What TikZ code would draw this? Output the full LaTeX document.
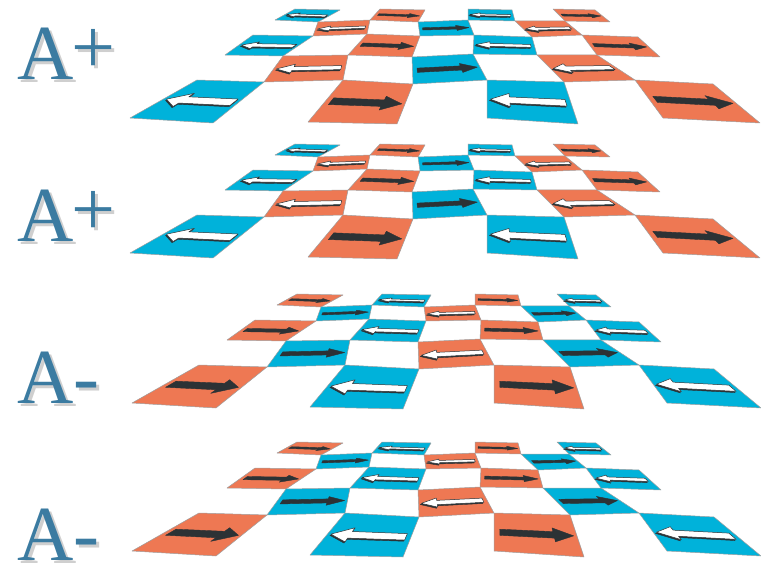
\documentclass[tikz,border=0pt]{standalone}
\usepackage{fontspec}
\setmainfont{Liberation Serif}
\usetikzlibrary{calc}
\definecolor{tileblue}{HTML}{00B2DA}
\definecolor{tileorange}{HTML}{EE7853}
\definecolor{arrowdark}{HTML}{2C3235}
\definecolor{labelblue}{HTML}{3B7BA1}
\definecolor{labelshade}{HTML}{CFCFCF}

% point at (u,v) inside the current tile A-B-C-D (bilinear)
\newcommand\tpt[3]{\coordinate (#1) at ($($(A)!#2!(B)$)!#3!($(D)!#2!(C)$)$);}

% dark arrow pointing right
\newcommand\arrR{%
  \tpt{q1}{0.07}{0.42}\tpt{q2}{0.72}{0.42}\tpt{q3}{0.72}{0.33}\tpt{q4}{0.96}{0.5}%
  \tpt{q5}{0.72}{0.67}\tpt{q6}{0.72}{0.58}\tpt{q7}{0.07}{0.58}%
  \filldraw[darrow] (q1)--(q2)--(q3)--(q4)--(q5)--(q6)--(q7)--cycle;}

% white arrow pointing left, with a dark drop shadow
\newcommand\arrL{%
  \tpt{q1}{0.94}{0.42}\tpt{q2}{0.27}{0.42}\tpt{q3}{0.27}{0.33}\tpt{q4}{0.04}{0.5}%
  \tpt{q5}{0.27}{0.67}\tpt{q6}{0.27}{0.58}\tpt{q7}{0.94}{0.58}%
  \filldraw[warrowshade] ([xshift=-1pt,yshift=-1.2pt]q1)--([xshift=-1pt,yshift=-1.2pt]q2)
    --([xshift=-1pt,yshift=-1.2pt]q3)--([xshift=-1pt,yshift=-1.2pt]q4)
    --([xshift=-1pt,yshift=-1.2pt]q5)--([xshift=-1pt,yshift=-1.2pt]q6)
    --([xshift=-1pt,yshift=-1.2pt]q7)--cycle;
  \filldraw[warrow] (q1)--(q2)--(q3)--(q4)--(q5)--(q6)--(q7)--cycle;}

% label text with a soft grey copy behind it
\newcommand\shadowed[1]{\rlap{\kern3pt\raisebox{-3pt}{\color{labelshade}#1}}#1}
\newcommand\plussign{A\kern-2pt\raisebox{6pt}{+}}

% lattice vertices, row lines j = 0 (front) .. 5 (back)
\def\vrows{%
  0/{130/118,213/123,308/122,397/124,487/118,578/124,663/118,760/123},
  1/{197/80,264/82,343/80,413/84,487/80,564/82,635/80,713/84},
  2/{225/55,283/56,348/55,412/57,473/54,537/55,597/55,660/57},
  3/{253/35,313/36,367/34,420/36,474/35,532/37,582/35,638/37},
  4/{275/20,318/22,370/20,418/22,468/20,515/21,565/21,610/22},
  5/{295/9,340/10,380/9,425/10,468/9,512/10,553/9,595/10}}

\begin{document}
\begin{tikzpicture}[x=1pt,y=-1pt,
  tile/.style={draw=gray!75, line width=0.5pt, line join=round},
  darrow/.style={fill=arrowdark, draw=arrowdark, line width=0.4pt, line join=round},
  warrowshade/.style={fill=arrowdark, draw=arrowdark, line width=0.4pt, line join=round},
  warrow/.style={fill=white, draw=arrowdark, line width=0.5pt, line join=round},
  lbl/.style={text=labelblue, font=\fontsize{78}{80}\selectfont, inner sep=0pt, anchor=base west}]
\useasboundingbox (0,0) rectangle (761,564);

% four sheets: index / vertical offset / swap flag (0 = A+, 1 = A-)
\foreach \L/\off/\s in {1/0/0, 2/135/0, 3/285/1, 4/433/1}{
  \foreach \j/\row in \vrows{
    \foreach \x/\y [count=\i from 0] in \row{
      % the A- sheets sit slightly further right in the middle columns
      \pgfmathsetmacro\dx{{2,3,2,6,7,6,4,1}[\i]*\s}
      \coordinate (v\L-\i-\j) at (\x+\dx,\y+\off);
    }
  }
  \foreach \c in {0,...,6}{
    \foreach \r in {0,...,4}{
      \pgfmathtruncatemacro\pty{mod(\c+\r,2)}
      \ifnum\pty=0
        \pgfmathtruncatemacro\cn{\c+1}
        \pgfmathtruncatemacro\rn{\r+1}
        \coordinate (A) at (v\L-\c-\r);
        \coordinate (B) at (v\L-\cn-\r);
        \coordinate (C) at (v\L-\cn-\rn);
        \coordinate (D) at (v\L-\c-\rn);
        \pgfmathtruncatemacro\isblue{mod(int(mod(\c+1,4)/2)+\s,2)}
        \pgfmathtruncatemacro\isleft{mod(int(mod(\c,4)/2)+\s,2)}
        \ifnum\isblue=0 \def\tcol{tileblue}\else\def\tcol{tileorange}\fi
        \filldraw[tile, fill=\tcol] (A)--(B)--(C)--(D)--cycle;
        \ifnum\isleft=0 \arrL\else\arrR\fi
      \fi
    }
  }
}

% sheet labels
\node[lbl] (lab1) at (17,80) {\shadowed{\plussign}};
\node[lbl] (lab2) at (17,242) {\shadowed{\plussign}};
\node[lbl] (lab3) at (17,403) {\shadowed{A-}};
\node[lbl] (lab4) at (17,560) {\shadowed{A-}};
\end{tikzpicture}
\end{document}
